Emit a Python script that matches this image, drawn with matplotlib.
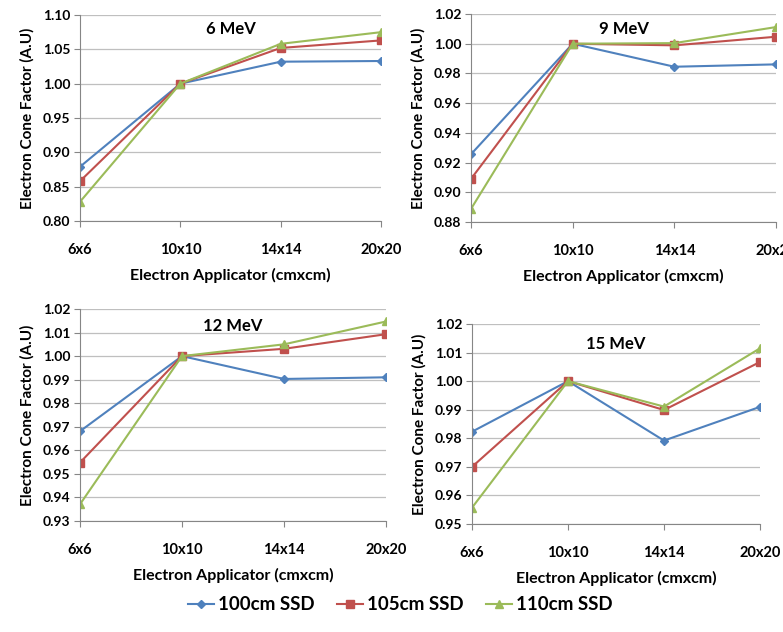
import matplotlib.pyplot as plt
from matplotlib.lines import Line2D

plt.rcParams['font.family'] = ['Lato', 'DejaVu Sans']
plt.rcParams['font.weight'] = 'bold'

# Datos
aplicadores = ['6x6', '10x10', '14x14', '20x20']
series = ['100cm SSD', '105cm SSD', '110cm SSD']

mev6_100 = [0.879, 1.000, 1.032, 1.033]
mev6_105 = [0.858, 1.000, 1.052, 1.063]
mev6_110 = [0.828, 1.000, 1.058, 1.075]

mev9_100 = [0.9256, 1.000, 0.9845, 0.9861]
mev9_105 = [0.9090, 1.000, 0.9989, 1.0047]
mev9_110 = [0.8888, 1.000, 1.0004, 1.0112]

mev12_100 = [0.9681, 1.000, 0.9903, 0.9910]
mev12_105 = [0.9548, 1.000, 1.0031, 1.0093]
mev12_110 = [0.9371, 1.000, 1.0050, 1.0147]

mev15_100 = [0.9823, 1.000, 0.9792, 0.9910]
mev15_105 = [0.9700, 1.000, 0.9899, 1.0067]
mev15_110 = [0.9557, 1.000, 0.9911, 1.0115]

colores = ['#4F81BD', '#C0504D', '#9BBB59']
marcadores = ['D', 's', '^']
tamanos = [4, 6, 6]

paneles = [
    ('6 MeV', [mev6_100, mev6_105, mev6_110], (0.80, 1.10), 0.05,
     [80/783, 1 - 221/632, 301/783, 206/632], 0.93),
    ('9 MeV', [mev9_100, mev9_105, mev9_110], (0.88, 1.02), 0.02,
     [471/783, 1 - 222/632, 305/783, 208/632], 0.93),
    ('12 MeV', [mev12_100, mev12_105, mev12_110], (0.93, 1.02), 0.01,
     [80/783, 1 - 521/632, 306/783, 212/632], 0.92),
    ('15 MeV', [mev15_100, mev15_105, mev15_110], (0.95, 1.02), 0.01,
     [472/783, 1 - 524/632, 288/783, 200/632], 0.90),
]

fig = plt.figure(figsize=(7.83, 6.32), dpi=100)
x = list(range(len(aplicadores)))

for titulo, datos, lim, paso, pos, ytit in paneles:
    ax = fig.add_axes(pos)
    for vals, c, m, ms in zip(datos, colores, marcadores, tamanos):
        ax.plot(x, vals, color=c, marker=m, markersize=ms, linewidth=1.5)
    ax.set_xlim(0, 3)
    ax.set_ylim(*lim)
    n = int(round((lim[1] - lim[0]) / paso))
    yt = [lim[0] + i * paso for i in range(n + 1)]
    ax.set_yticks(yt)
    ax.set_yticklabels(['%.2f' % v for v in yt], fontsize=10, fontweight='bold')
    ax.set_xticks(x)
    ax.set_xticklabels(aplicadores, fontsize=10.5, fontweight='bold')
    ax.tick_params(axis='x', length=4, color='#868686', pad=12)
    ax.tick_params(axis='y', length=4, color='#868686', pad=3)
    ax.yaxis.grid(True, color='#BFBFBF', linewidth=0.9)
    ax.set_axisbelow(True)
    for s in ['top', 'right']:
        ax.spines[s].set_visible(False)
    for s in ['left', 'bottom']:
        ax.spines[s].set_color('#868686')
    ax.set_xlabel('Electron Applicator (cmxcm)', fontsize=11.5, fontweight='bold', labelpad=8)
    ax.set_ylabel('Electron Cone Factor (A.U)', fontsize=11, fontweight='bold', labelpad=6)
    ax.text(0.5, ytit, titulo, transform=ax.transAxes, ha='center', va='center',
            fontsize=12, fontweight='bold')

manejadores = [Line2D([], [], color=c, marker=m, markersize=ms, linewidth=1.5)
               for c, m, ms in zip(colores, marcadores, tamanos)]
fig.legend(manejadores, series, loc='center', bbox_to_anchor=(0.511, 1 - 605/632),
           ncol=3, frameon=False, prop={'size': 13.5, 'weight': 'bold'},
           handlelength=1.4, handletextpad=0.2, columnspacing=1.2)

fig.savefig('out.png', dpi=100)
plt.close(fig)
